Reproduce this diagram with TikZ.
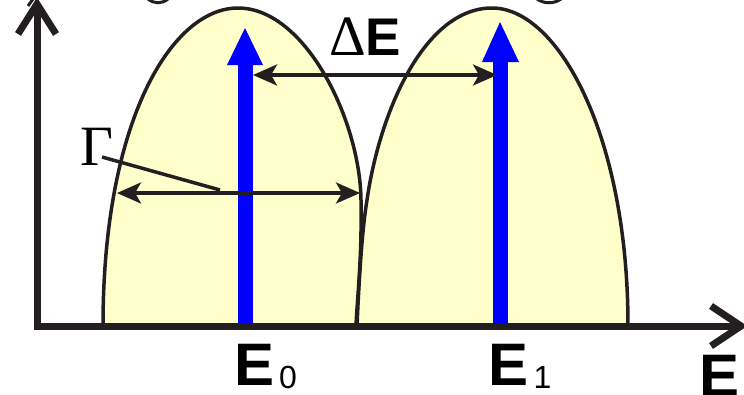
\documentclass[tikz,border=0pt]{standalone}
\usepackage{fontspec}
\setmainfont{Liberation Sans}
\newfontfamily\greekserif{Liberation Serif}
\usetikzlibrary{arrows.meta}
\definecolor{inkblack}{HTML}{231F20}
\definecolor{peakfill}{HTML}{FFFFCC}
\definecolor{lineblue}{HTML}{0000FF}
\begin{document}
\begin{tikzpicture}[x=1pt,y=-1pt,
  axisline/.style={draw=inkblack,line width=7pt,line join=miter,line cap=butt},
  chevron/.style={draw=inkblack,line width=7pt,line join=miter,miter limit=10},
  peakoutline/.style={draw=inkblack,line width=3.5pt},
  peakarea/.style={fill=peakfill},
  bluebar/.style={fill=lineblue},
  dimline/.style={draw=inkblack,line width=3.5pt,
    {Stealth[length=24pt,width=21pt,inset=6pt]}-{Stealth[length=24pt,width=21pt,inset=6pt]}},
  leader/.style={draw=inkblack,line width=3.5pt},
  serifsym/.style={inner sep=0pt,font=\greekserif\fontsize{57}{60}\selectfont},
  sanslabel/.style={inner sep=0pt,font=\fontsize{60}{64}\selectfont\bfseries},
  fragment/.style={draw=inkblack,line width=3pt},
]
\useasboundingbox (0,0) rectangle (744,394);

% peaks: fills
\path[peakarea] (103,326) .. controls (103,120) and (172,8) .. (238,8)
  .. controls (305,8) and (360,120) .. (361,200)
  .. controls (362,260) and (357,300) .. (356,326) -- cycle;
\path[peakarea] (357,326) .. controls (359,280) and (362,230) .. (367,200)
  .. controls (380,110) and (425,8) .. (492,8)
  .. controls (558,8) and (628,135) .. (628,326) -- cycle;
% peaks: outlines
\draw[peakoutline] (103,326) .. controls (103,120) and (172,8) .. (238,8)
  .. controls (305,8) and (360,120) .. (361,200)
  .. controls (362,260) and (357,300) .. (356,326);
\draw[peakoutline] (357,326) .. controls (359,280) and (362,230) .. (367,200)
  .. controls (380,110) and (425,8) .. (492,8)
  .. controls (558,8) and (628,135) .. (628,326);

% blue lines
\fill[bluebar] (237.5,326) rectangle (252.5,62);
\fill[bluebar] (227,65) -- (263,65) -- (245,28) -- cycle;
\fill[bluebar] (492.5,326) rectangle (507.5,59);
\fill[bluebar] (482,62) -- (519,62) -- (500,22) -- cycle;

% axes
\coordinate (origin) at (37,326);
\coordinate (ytop) at (37,4);
\coordinate (xend) at (741,326);
\draw[axisline] (37,329.5) -- (ytop);
\draw[axisline] (33.5,326) -- (xend);
\draw[chevron] (18,34) -- (ytop) -- (56,34);
\draw[chevron] (711,306) -- (xend) -- (711,346);

% dimension arrows
\coordinate (dEl) at (253,75);
\coordinate (dEr) at (497,75);
\draw[dimline] (dEl) -- (dEr);
\coordinate (gl) at (117,193);
\coordinate (gr) at (360,193);
\draw[dimline] (gl) -- (gr);
\coordinate (gleadA) at (102,157);
\coordinate (gleadB) at (220,190);
\draw[leader] (gleadA) -- (gleadB);

% labels
\node[serifsym,anchor=base west] (gamma) at (80,165) {Γ};
\node[inner sep=0pt,anchor=base west] (deltaE) at (329,55)
  {{\greekserif\fontsize{57}{60}\selectfont Δ}{\fontsize{53}{56}\selectfont\bfseries E}};
\node[sanslabel,anchor=base west] (E0) at (234,385)
  {E\hspace{5pt}\raisebox{-3pt}{\fontsize{32}{34}\mdseries\selectfont 0}};
\node[sanslabel,anchor=base west] (E1) at (488,385)
  {E\hspace{5.5pt}\raisebox{-3pt}{\fontsize{32}{34}\mdseries\selectfont 1}};
\node[sanslabel,anchor=base west] (Eaxis) at (699,396) {E};

% cut-off fragments at the top edge
\draw[fragment] (28,6) -- (33,-1);
\draw[fragment] (148,-1) .. controls (154,4) and (162,4) .. (168,-1);
\draw[fragment] (537,-1) .. controls (544,4) and (554,4) .. (561,-1);
\end{tikzpicture}
\end{document}
